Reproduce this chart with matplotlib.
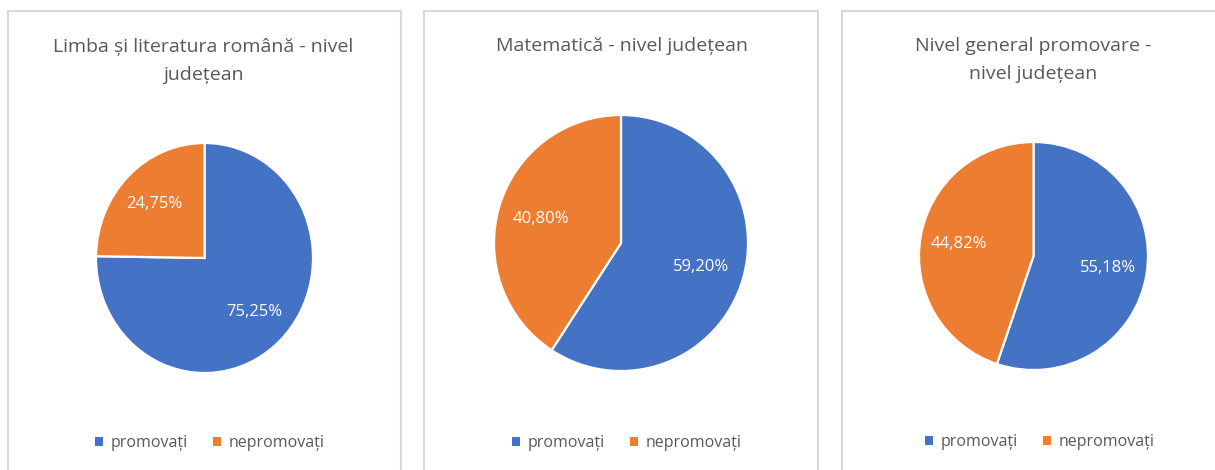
import matplotlib
matplotlib.use("Agg")
import matplotlib.pyplot as plt
from matplotlib.patches import Rectangle, Patch

# ---- data ----
categories = ["promovați", "nepromovați"]
titles = ["Limba și literatura română - nivel\njudețean",
          "Matematică - nivel județean",
          "Nivel general promovare -\nnivel județean"]
romana = [75.25, 24.75]
matematica = [59.20, 40.80]
general = [55.18, 44.82]
series = [romana, matematica, general]
colors = ["#4472C4", "#ED7D31"]

W, H = 1215, 470
plt.rcParams['font.family'] = ['Open Sans', 'DejaVu Sans']
fig = plt.figure(figsize=(W / 100, H / 100), dpi=100)
fig.patch.set_facecolor("white")

def fx(px):
    return px / W

def fy(py):
    return 1 - py / H

# panel borders (pixel boxes: x0, x1)
panels = [(8, 401), (424, 818), (842, 1230)]
for x0, x1 in panels:
    fig.patches.append(Rectangle((fx(x0), fy(H + 20)), fx(x1) - fx(x0), fy(11) - fy(H + 20),
                                 transform=fig.transFigure, fill=False,
                                 edgecolor="#D9D9D9", linewidth=1.5))

# pie bounding boxes in pixels: x0, x1, y0(top), y1(bottom)
pie_boxes = [(96, 313, 143, 373), (494, 748, 115, 371), (919, 1148, 142, 370)]
title_pos = [(203, 61), (622, 46), (1033, 60)]
legend_pos = [(210, 443), (627, 443), (1040, 442)]

def fmt(p):
    return f"{p:.2f}%".replace(".", ",")

for vals, title, box, tp, lp in zip(series, titles, pie_boxes, title_pos, legend_pos):
    x0, x1, y0, y1 = box
    ax = fig.add_axes([fx(x0), fy(y1), fx(x1) - fx(x0), fy(y0) - fy(y1)])
    wedges, texts, autotexts = ax.pie(
        vals, colors=colors, startangle=90, counterclock=False,
        autopct=fmt, pctdistance=0.66,
        wedgeprops=dict(edgecolor="white", linewidth=1.6),
        textprops=dict(color="white", fontsize=12))
    ax.set_xlim(-1, 1)
    ax.set_ylim(-1, 1)
    ax.set_aspect("auto")
    ax.axis("off")
    fig.text(fx(tp[0]), fy(tp[1]), title, ha="center", va="center",
             fontsize=14, color="#595959", linespacing=1.65)
    handles = [Patch(facecolor=w.get_facecolor(), edgecolor="none") for w in wedges]
    ax.legend(handles, categories, loc="center", bbox_to_anchor=(fx(lp[0]), fy(lp[1])),
              bbox_transform=fig.transFigure, ncol=2, frameon=False,
              handlelength=0.5, handleheight=0.5, handletextpad=0.45,
              columnspacing=1.6, fontsize=11.5, labelcolor="#595959")

fig.savefig("out.png", dpi=100, facecolor="white")
